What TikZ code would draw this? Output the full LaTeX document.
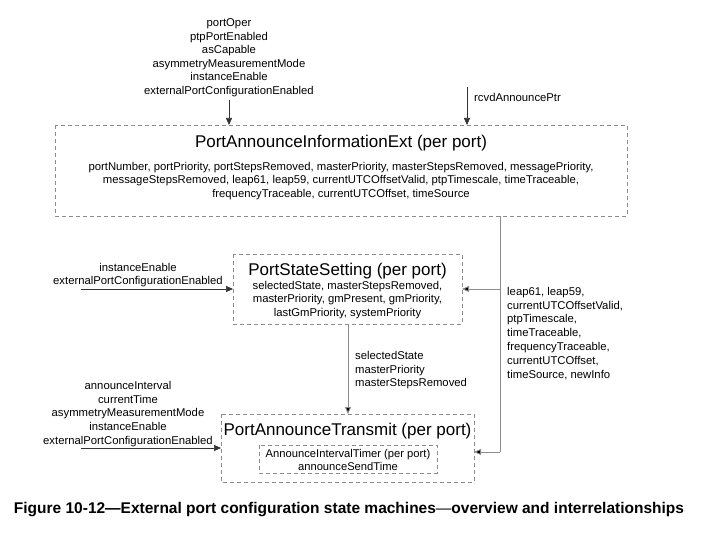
\documentclass[tikz,border=0pt]{standalone}
\usepackage{fontspec}
\setmainfont{Liberation Sans}
\usetikzlibrary{arrows.meta}
\tikzset{
  sm/.style={draw=black!45, dash pattern=on 4pt off 3pt, line width=0.8pt, inner sep=0pt},
  lbl/.style={font=\fontsize{11.3}{13.6}\selectfont, align=center, inner sep=0pt},
  lbll/.style={font=\fontsize{11.3}{13.8}\selectfont, align=left, inner sep=0pt},
  ttl/.style={font=\fontsize{17}{20}\selectfont, inner sep=0pt},
  conn/.style={draw=black!45, line width=0.9pt},
  inarrow/.style={draw=black!80, line width=0.7pt, -{Triangle[length=7pt,width=6pt]}},
  garrow/.style={conn, -{Triangle[length=7pt,width=6pt,fill=black]}}
}
\begin{document}
\begin{tikzpicture}[x=1pt,y=-1pt]
\useasboundingbox (0,0) rectangle (706,540);
% top box
\draw[sm] (55,125) rectangle (627,216);
\node[ttl] (t1) at (341,143) {PortAnnounceInformationExt (per port)};
\node[lbl] (b1) at (341,181) {portNumber, portPriority, portStepsRemoved, masterPriority, masterStepsRemoved, messagePriority,\\messageStepsRemoved, leap61, leap59, currentUTCOffsetValid, ptpTimescale, timeTraceable,\\frequencyTraceable, currentUTCOffset, timeSource};
\coordinate (top1) at (229,125);
\coordinate (top2) at (467,125);
% top inputs
\node[lbl, anchor=south] (in1) at (229,97) {portOper\\ptpPortEnabled\\asCapable\\asymmetryMeasurementMode\\instanceEnable\\externalPortConfigurationEnabled};
\coordinate (in1s) at (229,100);
\draw[inarrow] (in1s) -- (top1);
\coordinate (in2s) at (467,87);
\draw[inarrow] (in2s) -- (top2);
\node[lbl, anchor=west] (rcvd) at (474,97) {rcvdAnnouncePtr};
% middle box
\draw[sm] (233,254) rectangle (462,324);
\node[ttl] (t2) at (347.5,271) {PortStateSetting (per port)};
\node[lbl] (b2) at (347.5,300) {selectedState, masterStepsRemoved,\\masterPriority, gmPresent, gmPriority,\\lastGmPriority, systemPriority};
% bottom box
\draw[sm] (221,414) rectangle (474,482);
\node[ttl] (t3) at (347.5,431) {PortAnnounceTransmit (per port)};
\draw[sm] (259,445) rectangle (437,473);
\node[lbl, font=\fontsize{11.2}{13}\selectfont] (b3) at (348,460) {AnnounceIntervalTimer (per port)\\announceSendTime};
% left inputs middle
\node[lbl] (lm) at (138,275) {instanceEnable\\externalPortConfigurationEnabled};
\coordinate (lms) at (81,289);
\coordinate (lme) at (233,289);
\draw[inarrow] (lms) -- (lme);
% left inputs bottom
\node[lbl] (lb) at (128,414) {announceInterval\\currentTime\\asymmetryMeasurementMode\\instanceEnable\\externalPortConfigurationEnabled};
\coordinate (lbs) at (81,448);
\coordinate (lbe) at (221,448);
\draw[inarrow] (lbs) -- (lbe);
% middle to bottom
\coordinate (m1) at (348,324);
\coordinate (m2) at (348,414);
\draw[garrow] (m1) -- (m2);
\node[lbll, anchor=north west] (ml) at (355,351) {selectedState\\masterPriority\\masterStepsRemoved};
% right connector
\coordinate (r0) at (500,216);
\coordinate (r1) at (500,289);
\coordinate (r2) at (500,452);
\coordinate (r1e) at (462,289);
\coordinate (r2e) at (474,452);
\draw[conn] (r0) -- (r2);
\draw[garrow] (r1) -- (r1e);
\draw[garrow] (r2) -- (r2e);
\node[lbll, anchor=north west] (rl) at (507,287) {leap61, leap59,\\currentUTCOffsetValid,\\ptpTimescale,\\timeTraceable,\\frequencyTraceable,\\currentUTCOffset,\\timeSource, newInfo};
% caption
\node[inner sep=0pt, font=\fontsize{15.5}{18}\selectfont\bfseries] (cap) at (349,510) {Figure 10-12---External port configuration state machines{\mdseries ---}overview and interrelationships};
\end{tikzpicture}
\end{document}
